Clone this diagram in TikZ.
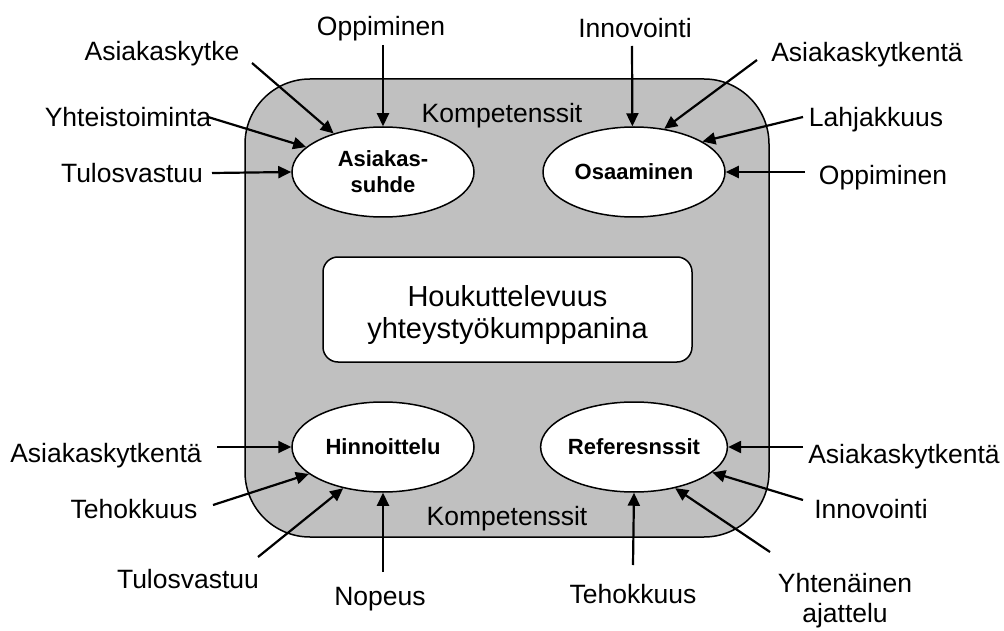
\documentclass[tikz,border=0pt]{standalone}
\usepackage{fontspec}
\setmainfont{Liberation Sans}
\usetikzlibrary{arrows.meta,shapes.geometric}
\definecolor{panelgray}{RGB}{192,192,192}
\begin{document}
\begin{tikzpicture}[x=1pt,y=-1pt,
  lbl/.style={anchor=base, inner sep=0pt, font=\fontsize{26.5}{30}\selectfont},
  hub/.style={ellipse, draw, line width=1.5pt, fill=white, minimum width=182pt,
    minimum height=90pt, inner sep=0pt, align=center,
    font=\bfseries\fontsize{22}{26}\selectfont},
  feed/.style={line width=2.2pt, -{Triangle[length=13pt,width=12pt]}},
]
\useasboundingbox (0,0) rectangle (1004,631);

% grey competence panel
\node (panel) [draw, line width=1.5pt, fill=panelgray, rounded corners=65pt,
  minimum width=524pt, minimum height=458pt, inner sep=0pt] at (507,308) {};
\node (kompT) [lbl] at (502,123) {Kompetenssit};
\node (kompB) [lbl] at (507,525) {Kompetenssit};

% central statement (the strut lowers the two lines a little inside the box)
\node (core) [draw, line width=1.5pt, fill=white, rounded corners=15pt,
  minimum width=369pt, minimum height=105pt, inner sep=0pt, align=center,
  font=\fontsize{29}{32}\selectfont] at (507.5,309.5)
  {\rule{0pt}{33pt}Houkuttelevuus\\yhteystyökumppanina};

% four factors
\node (as) [hub] at (383,172) {Asiakas-\\suhde};
\node (os) [hub] at (634,172) {Osaaminen};
\node (hi) [hub] at (383,447) {Hinnoittelu};
\node (re) [hub] at (634,447) {Referesnssit};

% contributing labels
\node (lOppA)  [lbl] at (381,36)  {Oppiminen};
\node (lAsk)   [lbl] at (162,61)  {Asiakaskytke};
\node (lYht)   [lbl] at (128,127) {Yhteistoiminta};
\node (lTul)   [lbl] at (132,183) {Tulosvastuu};
\node (lInn)   [lbl] at (635,38)  {Innovointi};
\node (lAskR)  [lbl] at (867,62)  {Asiakaskytkentä};
\node (lLah)   [lbl] at (876,127) {Lahjakkuus};
\node (lOppB)  [lbl] at (883,185) {Oppiminen};
\node (lAskBL) [lbl] at (106,462) {Asiakaskytkentä};
\node (lTehL)  [lbl] at (134,518) {Tehokkuus};
\node (lTulL)  [lbl] at (188,588) {Tulosvastuu};
\node (lNop)   [lbl] at (380,605) {Nopeus};
\node (lAskBR) [lbl] at (904,463) {Asiakaskytkentä};
\node (lInnR)  [lbl] at (871,518) {Innovointi};
\node (lYhtR)  [lbl, align=center] at (845,622) {Yhtenäinen\\ajattelu};
\node (lTehR)  [lbl] at (633,603) {Tehokkuus};

% arrow tails next to the labels
\coordinate (s1)  at (383,45);
\coordinate (s2)  at (252,63);
\coordinate (s3)  at (208,117);
\coordinate (s4)  at (212,173);
\coordinate (s5)  at (632,46);
\coordinate (s6)  at (757,60);
\coordinate (s7)  at (803,117);
\coordinate (s8)  at (805,172);
\coordinate (s9)  at (217,447);
\coordinate (s10) at (213,505);
\coordinate (s11) at (258,557);
\coordinate (s12) at (383,572);
\coordinate (s13) at (803,447);
\coordinate (s14) at (803,500);
\coordinate (s15) at (770,552);
\coordinate (s16) at (633,565);

\draw[feed] (s1)  -- (as.north);
\draw[feed] (s2)  -- (as.142);
\draw[feed] (s3)  -- (as.162);
\draw[feed] (s4)  -- (as.west);
\draw[feed] (s5)  -- (os.92);
\draw[feed] (s6)  -- (os.55);
\draw[feed] (s7)  -- (os.24);
\draw[feed] (s8)  -- (os.east);
\draw[feed] (s9)  -- (hi.west);
\draw[feed] (s10) -- (hi.200);
\draw[feed] (s11) -- (hi.226);
\draw[feed] (s12) -- (hi.south);
\draw[feed] (s13) -- (re.east);
\draw[feed] (s14) -- (re.342);
\draw[feed] (s15) -- (re.315);
\draw[feed] (s16) -- (re.south);
\end{tikzpicture}
\end{document}
